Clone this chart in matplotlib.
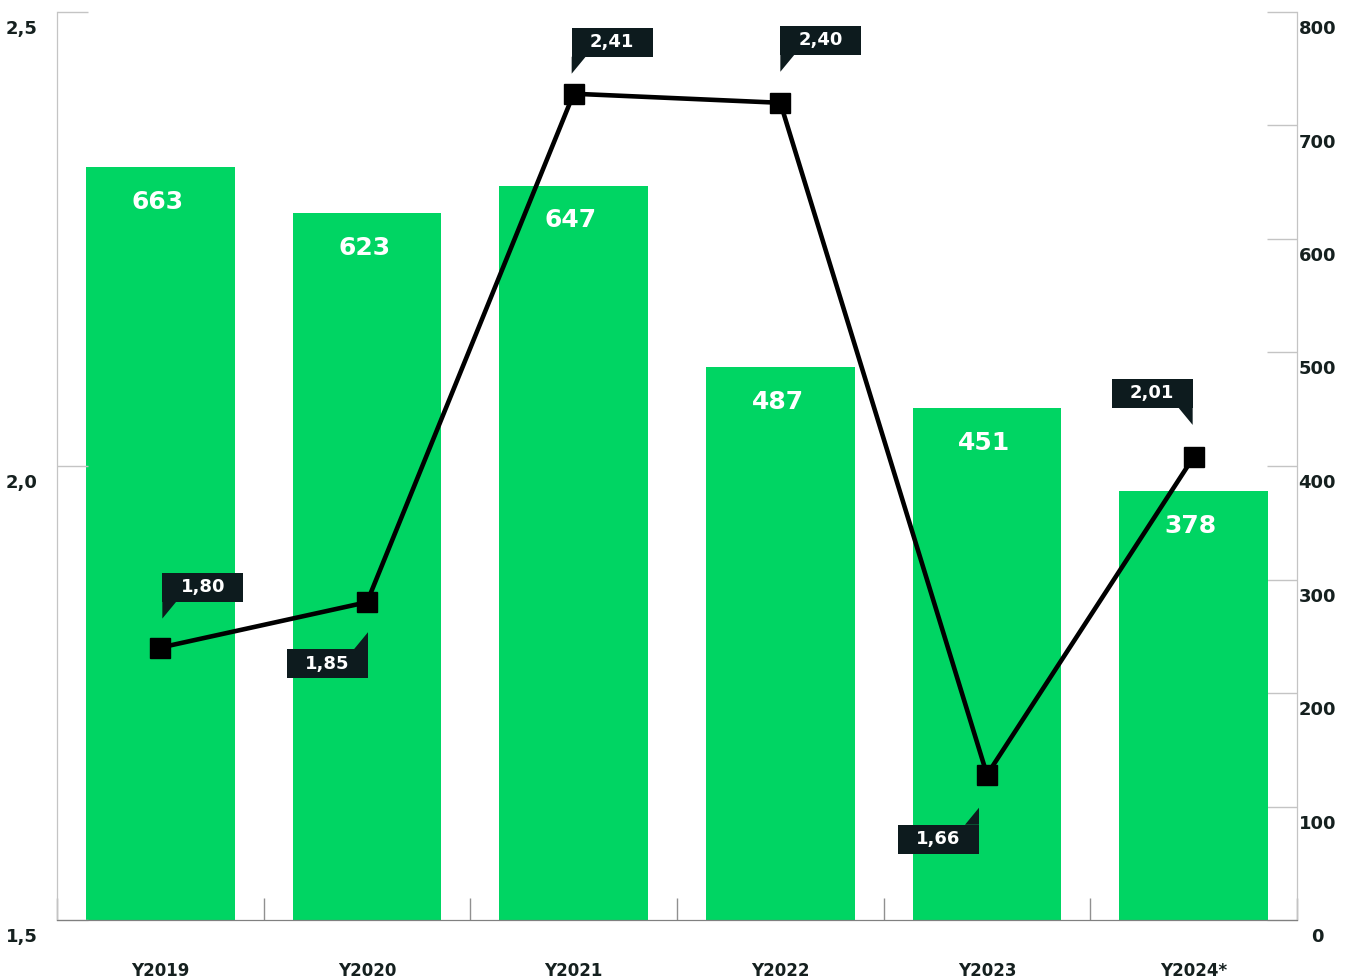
import matplotlib
matplotlib.use("Agg")
import matplotlib.pyplot as plt
import matplotlib.transforms as mtransforms
from matplotlib.patches import Polygon

categories = ["Y2019", "Y2020", "Y2021", "Y2022", "Y2023", "Y2024*"]
bar_values = [663, 623, 647, 487, 451, 378]
line_values = [1.80, 1.85, 2.41, 2.40, 1.66, 2.01]
left_ticks = [1.5, 2.0, 2.5]
right_ticks = [0, 100, 200, 300, 400, 500, 600, 700, 800]

# label placement: (vertical, horizontal, gap in px, horizontal shift in px)
label_place = [("above", "right", 46, 2), ("below", "left", 47, 1),
               ("above", "right", 37, -2), ("above", "right", 48, 0),
               ("below", "left", 50, -8), ("above", "left", 49, -1)]

GREEN = "#00D563"
DARK = "#0D1B1E"
TEXT = "#15201F"
FONT = "DejaVu Sans"

plt.rcParams["font.family"] = [FONT]

fig = plt.figure(figsize=(13.5, 9.8), dpi=100)
ax = fig.add_axes([57 / 1350, 60 / 980, 1240 / 1350, 908 / 980])
ax2 = ax.twinx()

x = list(range(len(categories)))

# Bars on primary axes, scale on the right
ax.bar(x, bar_values, width=0.72, color=GREEN, zorder=2)
ax.set_ylim(0, 800)
ax.set_xlim(-0.5, len(categories) - 0.5)
ax.yaxis.tick_right()
ax.set_yticks(right_ticks)
ax.set_yticklabels([str(t) for t in right_ticks])
ax.tick_params(axis="y", direction="in", length=21.6, width=1, color="#C4C4C4",
               pad=1, labelsize=13, labelcolor=TEXT)
for lab in ax.get_yticklabels():
    lab.set_fontweight("bold")
    lab.set_horizontalalignment("center")
    lab.set_transform(lab.get_transform() + mtransforms.ScaledTranslation(0.19, -0.15, fig.dpi_scale_trans))

for i, v in enumerate(bar_values):
    ax.annotate(str(v), (i, v), xytext=(-2, -25), textcoords="offset points",
                ha="center", va="center", color="white", fontsize=18,
                fontweight="bold", zorder=3)

# x axis
ax.set_xticks(x)
ax.set_xticklabels(categories)
ax.tick_params(axis="x", which="major", length=0, pad=30, labelsize=12, labelcolor=TEXT)
for lab in ax.get_xticklabels():
    lab.set_fontweight("bold")
ax.set_xticks([i + 0.5 for i in range(-1, len(categories))], minor=True)
ax.tick_params(axis="x", which="minor", direction="in", length=16, width=1, color="#909090")

for s in ["top"]:
    ax.spines[s].set_visible(False)
    ax2.spines[s].set_visible(False)
ax.spines["bottom"].set_color("#808080")
ax2.spines["bottom"].set_color("#808080")
for s in ["left", "right"]:
    ax.spines[s].set_color("#C4C4C4")
    ax2.spines[s].set_color("#C4C4C4")

# Line on twin axes, scale on the left
ax2.plot(x, line_values, color="black", linewidth=3.3, marker="s", markersize=15,
         markerfacecolor="black", zorder=4)
ax2.set_ylim(1.5, 2.5)
ax2.yaxis.tick_left()
ax2.set_yticks(left_ticks)
ax2.set_yticklabels([f"{t:.1f}".replace(".", ",") for t in left_ticks])
ax2.tick_params(axis="y", direction="in", length=22, width=1, color="#C4C4C4",
                pad=14, labelsize=13, labelcolor=TEXT)
for lab in ax2.get_yticklabels():
    lab.set_fontweight("bold")
    lab.set_transform(lab.get_transform() + mtransforms.ScaledTranslation(0, -0.15, fig.dpi_scale_trans))

# callout labels
BW, BH, TAILW, TAILH = 81, 29, 14, 17
px = mtransforms.Affine2D().scale(1 / 100) + fig.dpi_scale_trans
for i, (v, (vert, horiz, gap, shift)) in enumerate(zip(line_values, label_place)):
    tr = px + mtransforms.ScaledTranslation(i, v, ax2.transData)
    if vert == "above":
        y0, y1 = gap, gap + BH
        base, tip = y0, gap - TAILH
    else:
        y0, y1 = -(gap + BH), -gap
        base, tip = y1, -(gap - TAILH)
    if horiz == "right":
        x0, x1 = shift, shift + BW
        ex, tx = x0, x0 + TAILW
    else:
        x0, x1 = shift - BW, shift
        ex, tx = x1, x1 - TAILW
    ax2.add_patch(Polygon([(x0, y0), (x1, y0), (x1, y1), (x0, y1)], closed=True,
                          transform=tr, facecolor=DARK, edgecolor="none", zorder=5, clip_on=False))
    ax2.add_patch(Polygon([(ex, base), (ex, tip), (tx, base)], closed=True,
                          transform=tr, facecolor=DARK, edgecolor="none", zorder=5, clip_on=False))
    ax2.text((x0 + x1) / 2, (y0 + y1) / 2, f"{v:.2f}".replace(".", ","), transform=tr,
             ha="center", va="center", color="white", fontsize=13, fontweight="bold",
             zorder=6, clip_on=False)

fig.savefig("out.png", dpi=100)
